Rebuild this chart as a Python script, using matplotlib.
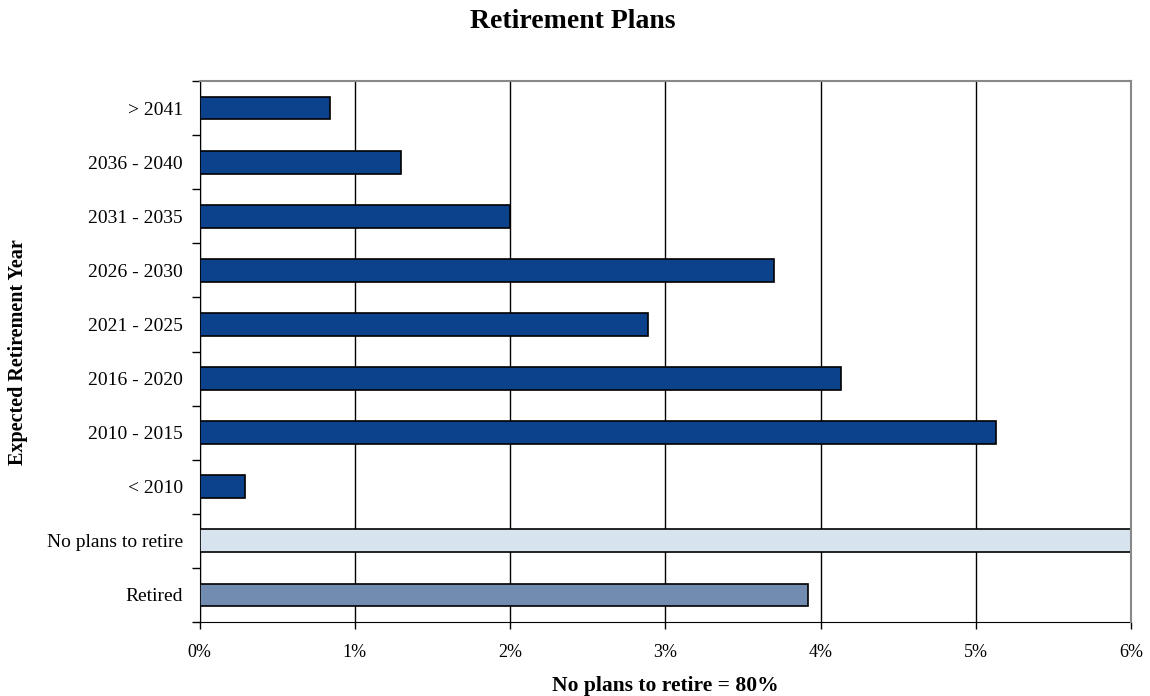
import matplotlib
matplotlib.use("Agg")
import matplotlib.pyplot as plt
from matplotlib.ticker import FuncFormatter, FixedLocator
import numpy as np

plt.rcParams['font.family'] = ['Liberation Serif', 'DejaVu Serif']

# Categories listed bottom to top
categories = ["Retired", "No plans to retire", "< 2010", "2010 - 2015", "2016 - 2020",
              "2021 - 2025", "2026 - 2030", "2031 - 2035", "2036 - 2040", "> 2041"]
shares = [3.92, 80.0, 0.29, 5.13, 4.13, 2.89, 3.70, 2.00, 1.30, 0.84]
colors = ["#728bb0", "#d7e3ee", "#0c428b", "#0c428b", "#0c428b",
          "#0c428b", "#0c428b", "#0c428b", "#0c428b", "#0c428b"]
x_ticks = [0, 1, 2, 3, 4, 5, 6]

W, H = 1150, 696
fig = plt.figure(figsize=(W / 100, H / 100), dpi=100)
ax_left, ax_right, ax_top, ax_bottom = 199.5, 1131, 81, 622
ax = fig.add_axes([ax_left / W, 1 - ax_bottom / H,
                   (ax_right - ax_left) / W, (ax_bottom - ax_top) / H])

y = np.arange(len(categories))
ax.barh(y, shares, height=0.42, color=colors, edgecolor="black", linewidth=1.2, zorder=3)

ax.set_xlim(0, 6)
ax.set_ylim(-0.5, len(categories) - 0.5)

ax.set_xticks(x_ticks)
ax.xaxis.set_major_formatter(FuncFormatter(lambda v, p: f"{v:.0f}%"))
ax.grid(axis="x", color="black", linewidth=1.0, zorder=1)
ax.tick_params(axis="x", direction="out", length=5, width=1, labelsize=13, pad=11)

ax.set_yticks(y)
ax.set_yticklabels(categories)
ax.tick_params(axis="y", which="major", length=0, labelsize=14, pad=12)
ax.yaxis.set_minor_locator(FixedLocator(np.arange(-0.5, len(categories), 1.0)))
ax.tick_params(axis="y", which="minor", direction="out", length=6, width=1)

for side in ["top", "right"]:
    ax.spines[side].set_color("#888888")
    ax.spines[side].set_linewidth(1.5)
    ax.spines[side].set_zorder(4)
ax.spines["left"].set_color("black")
ax.spines["bottom"].set_color("black")

fig.text(18 / W, 1 - 352 / H, "Expected Retirement Year", rotation=90,
         ha="center", va="center", fontsize=14.5, fontweight="bold")
fig.text(665 / W, 1 - 686 / H, "No plans to retire = 80%",
         ha="center", va="center", fontsize=15.5, fontweight="bold")
fig.text(573 / W, 1 - 22 / H, "Retirement Plans",
         ha="center", va="center", fontsize=20, fontweight="bold")

fig.savefig("out.png", dpi=100)
